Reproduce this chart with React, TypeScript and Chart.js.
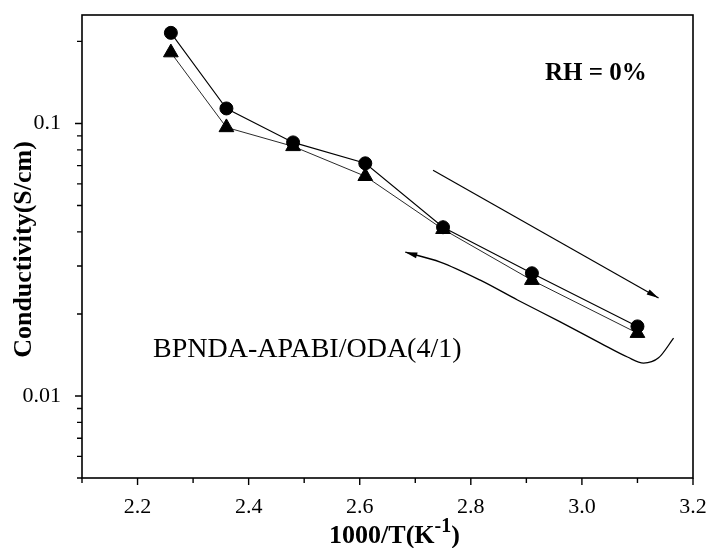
import React, { useEffect, useRef } from 'react';
import { Chart, registerables } from 'chart.js';

Chart.register(...registerables);

// 1000/T values (K^-1)
const inverseTemp = [2.26, 2.36, 2.48, 2.61, 2.75, 2.91, 3.1];
// Conductivity, circles (S/cm)
const conductivityCircle = [0.215, 0.1135, 0.0852, 0.0714, 0.0416, 0.0282, 0.018];
// Conductivity, triangles (S/cm)
const conductivityTriangle = [0.182, 0.0967, 0.0824, 0.064, 0.0409, 0.0266, 0.017];

// Annotation: straight arrow (heating direction)
const arrowX = [2.732, 3.138];
const arrowY = [0.0673, 0.0229];
// Annotation: curved arrow (cooling direction), arrow tip at first point
const curveX = [2.682, 2.745, 2.817, 2.884, 2.961, 3.034, 3.082, 3.111, 3.138, 3.165];
const curveY = [0.0337, 0.031, 0.0266, 0.0225, 0.0187, 0.0156, 0.0139, 0.0132, 0.0138, 0.0163];

// Ticks
const xMajorTicks = [2.2, 2.4, 2.6, 2.8, 3.0, 3.2];
const xMinorTicks = [2.1, 2.3, 2.5, 2.7, 2.9, 3.1];
const xTickLabels = ['2.2', '2.4', '2.6', '2.8', '3.0', '3.2'];
const yMajorTicks = [0.01, 0.1];
const yTickLabels = ['0.01', '0.1'];
const yMinorTicks = [0.005, 0.006, 0.007, 0.008, 0.009, 0.02, 0.03, 0.04, 0.05, 0.06, 0.07, 0.08, 0.09, 0.2];

const xTitleMain = '1000/T(K';
const xTitleSup = '-1';
const xTitleEnd = ')';
const yTitle = 'Conductivity(S/cm)';
const rhLabel = 'RH = 0%';
const sampleLabel = 'BPNDA-APABI/ODA(4/1)';

const SERIF = '"Liberation Serif", "Times New Roman", serif';

function arrowHead(ctx: CanvasRenderingContext2D, fx: number, fy: number, tx: number, ty: number, len: number, half: number) {
  const a = Math.atan2(ty - fy, tx - fx);
  const c = Math.cos(a), s = Math.sin(a);
  const bx = tx - len * c, by = ty - len * s;
  ctx.beginPath();
  ctx.moveTo(tx, ty);
  ctx.lineTo(bx - half * s, by + half * c);
  ctx.lineTo(bx + half * s, by - half * c);
  ctx.closePath();
  ctx.fill();
}

const decorPlugin = {
  id: 'decor',
  afterDatasetsDraw(chart: any) {
    const ctx: CanvasRenderingContext2D = chart.ctx;
    const { left, right, top, bottom } = chart.chartArea;
    const xs = chart.scales.x;
    const ys = chart.scales.y;
    ctx.save();
    ctx.strokeStyle = '#000';
    ctx.fillStyle = '#000';
    // frame
    ctx.lineWidth = 1.6;
    ctx.strokeRect(left, top, right - left, bottom - top);
    // ticks
    ctx.lineWidth = 1.4;
    ctx.beginPath();
    xMajorTicks.forEach((v) => {
      const p = xs.getPixelForValue(v);
      ctx.moveTo(p, bottom);
      ctx.lineTo(p, bottom + 7);
    });
    xMinorTicks.forEach((v) => {
      const p = xs.getPixelForValue(v);
      ctx.moveTo(p, bottom);
      ctx.lineTo(p, bottom + 5);
    });
    yMajorTicks.forEach((v) => {
      const p = ys.getPixelForValue(v);
      ctx.moveTo(left, p);
      ctx.lineTo(left - 7, p);
    });
    yMinorTicks.forEach((v) => {
      const p = ys.getPixelForValue(v);
      ctx.moveTo(left, p);
      ctx.lineTo(left - 5, p);
    });
    ctx.stroke();

    // arrowheads
    const a0x = xs.getPixelForValue(arrowX[0]), a0y = ys.getPixelForValue(arrowY[0]);
    const a1x = xs.getPixelForValue(arrowX[1]), a1y = ys.getPixelForValue(arrowY[1]);
    arrowHead(ctx, a0x, a0y, a1x, a1y, 12, 3);
    const c0x = xs.getPixelForValue(curveX[0]), c0y = ys.getPixelForValue(curveY[0]);
    const c1x = xs.getPixelForValue(curveX[1]), c1y = ys.getPixelForValue(curveY[1]);
    arrowHead(ctx, c1x, c1y, c0x, c0y, 12, 3);

    // texts
    ctx.textAlign = 'left';
    ctx.textBaseline = 'alphabetic';
    ctx.font = `bold 25px ${SERIF}`;
    ctx.fillText(rhLabel, 545, 80);
    ctx.font = `28px ${SERIF}`;
    ctx.fillText(sampleLabel, 153, 357);

    // x title with superscript
    ctx.font = `bold 26px ${SERIF}`;
    const w1 = ctx.measureText(xTitleMain).width;
    ctx.font = `bold 20px ${SERIF}`;
    const w2 = ctx.measureText(xTitleSup).width;
    ctx.font = `bold 26px ${SERIF}`;
    const w3 = ctx.measureText(xTitleEnd).width;
    const total = w1 + w2 + w3;
    const cx = (left + right) / 2 + 7;
    const x0 = cx - total / 2;
    ctx.fillText(xTitleMain, x0, 543);
    ctx.font = `bold 20px ${SERIF}`;
    ctx.fillText(xTitleSup, x0 + w1, 532);
    ctx.font = `bold 26px ${SERIF}`;
    ctx.fillText(xTitleEnd, x0 + w1 + w2, 543);

    // y title
    ctx.save();
    ctx.translate(31, (top + bottom) / 2 + 3);
    ctx.rotate(-Math.PI / 2);
    ctx.textAlign = 'center';
    ctx.font = `bold 26px ${SERIF}`;
    ctx.fillText(yTitle, 0, 0);
    ctx.restore();

    ctx.restore();
  },
};

export default function App() {
  const canvasRef = useRef<HTMLCanvasElement | null>(null);

  useEffect(() => {
    document.body.style.margin = '0';
    const canvas = canvasRef.current;
    if (!canvas) return;
    const circlePts = inverseTemp.map((x, i) => ({ x, y: conductivityCircle[i] }));
    const trianglePts = inverseTemp.map((x, i) => ({ x, y: conductivityTriangle[i] }));
    const arrowPts = arrowX.map((x, i) => ({ x, y: arrowY[i] }));
    const curvePts = curveX.map((x, i) => ({ x, y: curveY[i] }));

    const chart = new Chart(canvas, {
      type: 'scatter',
      data: {
        datasets: [
          {
            data: circlePts,
            showLine: true,
            borderColor: '#000',
            borderWidth: 1.1,
            backgroundColor: '#000',
            pointStyle: 'circle',
            pointRadius: 6.5,
            pointBorderWidth: 1,
            pointBorderColor: '#000',
            pointBackgroundColor: '#000',
            order: 1,
          },
          {
            data: trianglePts,
            showLine: true,
            borderColor: '#111',
            borderWidth: 0.9,
            backgroundColor: '#000',
            pointStyle: 'triangle',
            pointRadius: 8.5,
            pointBorderWidth: 1,
            pointBorderColor: '#000',
            pointBackgroundColor: '#000',
            order: 2,
          },
          {
            data: arrowPts,
            showLine: true,
            borderColor: '#000',
            borderWidth: 1.2,
            pointRadius: 0,
            order: 3,
          },
          {
            data: curvePts,
            showLine: true,
            borderColor: '#000',
            borderWidth: 1.3,
            pointRadius: 0,
            cubicInterpolationMode: 'monotone',
            order: 4,
          },
        ] as any,
      },
      options: {
        responsive: false,
        animation: false,
        devicePixelRatio: 1,
        layout: { padding: { left: 0, top: 15, right: 16, bottom: 0 } },
        plugins: {
          legend: { display: false },
          tooltip: { enabled: false },
          title: { display: false },
        },
        scales: {
          x: {
            type: 'linear',
            min: 2.1,
            max: 3.2,
            grid: { display: false },
            border: { display: false },
            ticks: {
              color: '#000',
              font: { family: SERIF, size: 22 },
              padding: 8,
              autoSkip: false,
              maxRotation: 0,
              callback: (v: any) => {
                const i = xMajorTicks.findIndex((t) => Math.abs(t - Number(v)) < 1e-6);
                return i >= 0 ? xTickLabels[i] : '';
              },
            },
            afterBuildTicks: (scale: any) => {
              scale.ticks = xMajorTicks.map((value) => ({ value }));
            },
            afterFit: (scale: any) => {
              scale.height = 70;
              scale.paddingLeft = 0;
              scale.paddingRight = 0;
            },
          },
          y: {
            type: 'logarithmic',
            min: 0.005,
            max: 0.25,
            grid: { display: false },
            border: { display: false },
            ticks: {
              color: '#000',
              font: { family: SERIF, size: 22 },
              padding: 13,
              autoSkip: false,
              callback: (v: any) => {
                const i = yMajorTicks.findIndex((t) => Math.abs(t - Number(v)) < 1e-9);
                return i >= 0 ? yTickLabels[i] : '';
              },
            },
            afterBuildTicks: (scale: any) => {
              scale.ticks = yMajorTicks.map((value) => ({ value }));
            },
            afterFit: (scale: any) => {
              scale.width = 82;
              scale.paddingTop = 0;
              scale.paddingBottom = 0;
            },
          },
        },
      } as any,
      plugins: [decorPlugin],
    });
    return () => chart.destroy();
  }, []);

  return (
    <div style={{ width: 709, height: 548, background: '#fff' }}>
      <canvas ref={canvasRef} width={709} height={548} style={{ display: 'block' }} />
    </div>
  );
}
